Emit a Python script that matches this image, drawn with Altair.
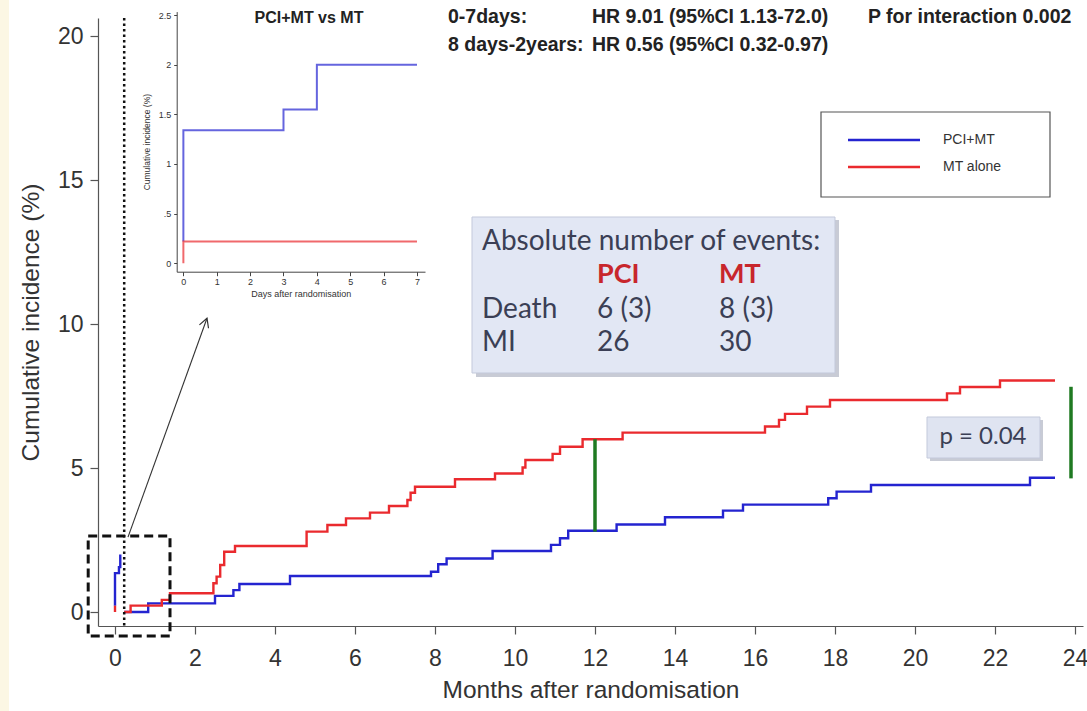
import altair as alt
import pandas as pd

# ---------------- data ----------------
SERIES = ["PCI+MT", "MT alone"]
COLORS = ["#2424d0", "#ea2a2e"]

MONTH_TICKS = list(range(0, 25, 2))
PCT_TICKS = [0, 5, 10, 15, 20]
DAY_TICKS = list(range(0, 8))
INSET_PCT_TICKS = [0, 0.5, 1, 1.5, 2, 2.5]

# landmark analysis 8 days - 2 years (months, cumulative %)
BLUE_T = [0.23, 0.83, 2.5, 2.96, 3.11, 4.375, 7.9, 8.08, 8.29, 9.44, 10.9, 11.125, 11.33,
          12.54, 13.75, 15.2, 15.7, 17.83, 18.04, 18.9, 22.875, 23.5]
BLUE_V = [0, 0.30, 0.56, 0.76, 0.97, 1.25, 1.40, 1.66, 1.86, 2.12, 2.33, 2.56, 2.82,
          3.04, 3.29, 3.52, 3.73, 3.95, 4.18, 4.41, 4.66, 4.66]
RED_T = [0.23, 0.39, 1.17, 1.375, 2.46, 2.54, 2.63, 2.73, 3.0, 4.79, 5.31, 5.775, 6.375,
         6.85, 7.31, 7.39, 7.5, 8.5, 9.5, 10.19, 10.26, 10.94, 11.125, 11.69, 12.69,
         16.25, 16.6, 16.75, 17.3, 17.875, 20.8, 21.125, 22.125, 23.5]
RED_V = [0, 0.22, 0.42, 0.65, 1.0, 1.23, 1.63, 2.09, 2.29, 2.79, 3.02, 3.25, 3.45,
         3.68, 3.89, 4.14, 4.35, 4.61, 4.81, 5.02, 5.28, 5.49, 5.74, 6.0, 6.23,
         6.44, 6.67, 6.88, 7.13, 7.36, 7.59, 7.81, 8.04, 8.04]

# first 7 days drawn on the month axis
EARLY_BLUE_T = [0, 0, 0.099, 0.132]
EARLY_BLUE_V = [0.22, 1.35, 1.56, 2.0]
EARLY_RED_T = [0, 0]
EARLY_RED_V = [0, 0.22]

# inset: days 0-7
INSET_BLUE_D = [0, 0, 3, 4, 7]
INSET_BLUE_V = [0.22, 1.34, 1.55, 2.0, 2.0]
INSET_RED_D = [0, 0, 7]
INSET_RED_V = [0, 0.22, 0.22]

# green difference bars
GREEN_T = [12, 23.9]
GREEN_LO = [2.79, 4.64]
GREEN_HI = [6.0, 7.82]

LANDMARK = [0.23]           # 7 days in months
ZOOM_BOX_X = [-0.67, 1.375]
ZOOM_BOX_Y = [-0.83, 2.64]
ARROW_FROM = [0.325, 2.6]
ARROW_TO = [2.3, 10.2]

HEAD_1 = ["0-7days:", "HR 9.01 (95%CI 1.13-72.0)", "P for interaction  0.002"]
HEAD_2 = ["8 days-2years:", "HR 0.56 (95%CI 0.32-0.97)"]
INSET_TITLE = "PCI+MT vs MT"
EVENTS_TITLE = "Absolute number of events:"
EVENT_COLS = ["PCI", "MT"]
EVENT_ROWS = ["Death", "MI"]
EVENT_PCI = ["6 (3)", "26"]
EVENT_MT = ["8 (3)", "30"]
P_TEXT = "p = 0.04"

# ---------------- tables ----------------
rows = []
def add(series, seg, ts, vs):
    for i, (t, v) in enumerate(zip(ts, vs)):
        rows.append(dict(series=series, seg=seg, t=t, v=v, i=i))

add(SERIES[0], "late_b", BLUE_T, BLUE_V)
add(SERIES[1], "late_r", RED_T, RED_V)
add(SERIES[0], "early_b", EARLY_BLUE_T, EARLY_BLUE_V)
add(SERIES[1], "early_r", EARLY_RED_T, EARLY_RED_V)
main_df = pd.DataFrame(rows)

irows = []
for i, (d, v) in enumerate(zip(INSET_BLUE_D, INSET_BLUE_V)):
    irows.append(dict(series=SERIES[0], d=d, v=v, i=i))
for i, (d, v) in enumerate(zip(INSET_RED_D, INSET_RED_V)):
    irows.append(dict(series=SERIES[1], d=d, v=v, i=i))
inset_df = pd.DataFrame(irows)

green_df = pd.DataFrame(dict(t=GREEN_T, lo=GREEN_LO, hi=GREEN_HI))
ONE = alt.Data(values=[{}])

FONT = "Liberation Sans"
CAL = "Lato"
W, H = 985, 608

XS = alt.Scale(domain=[-0.425, 24.2], nice=False, zero=False)
YS = alt.Scale(domain=[-0.486, 20.625], nice=False, zero=False)
CS = alt.Scale(domain=SERIES, range=COLORS)

x_axis = alt.Axis(values=MONTH_TICKS, title="Months after randomisation", grid=False,
                  labelFont=FONT, titleFont=FONT, labelFontSize=23, titleFontSize=24.5,
                  titleFontWeight="normal", labelColor="#333", titleColor="#333",
                  tickSize=8, tickColor="#555", domainColor="#555", tickWidth=1.2,
                  domainWidth=1.2, labelPadding=13, titlePadding=8, labelFlush=False)
y_axis = alt.Axis(values=PCT_TICKS, title="Cumulative incidence (%)", grid=False,
                  labelFont=FONT, titleFont=FONT, labelFontSize=23, titleFontSize=24.5,
                  titleFontWeight="normal", labelColor="#333", titleColor="#333",
                  tickSize=8, tickColor="#555", domainColor="#555", tickWidth=1.2,
                  domainWidth=1.2, labelPadding=7, titlePadding=14, labelFlush=False)

# plot-area origin is (98, 18) in page pixels
OX, OY = 98, 18
def px(x): return x - OX
def py(y): return y - OY

def txt(s, x, y, size, font=FONT, weight="normal", color="#222", align="left"):
    return alt.Chart(ONE).mark_text(font=font, fontSize=size, fontWeight=weight, color=color,
                                    align=align, baseline="middle").encode(
        x=alt.value(x), y=alt.value(y), text=alt.value(s))

def box(x0, x1, y0, y1, fill, stroke, sw=1.0, opacity=1.0):
    return alt.Chart(ONE).mark_rect(fill=fill, stroke=stroke, strokeWidth=sw,
                                    opacity=opacity).encode(
        x=alt.value(x0), x2=alt.value(x1), y=alt.value(y0), y2=alt.value(y1))

# cream page edge on the left
edge = box(px(0), px(9), py(0), py(711), "#fcf7e4", "#fcf7e4", 0)

lines = alt.Chart(main_df).mark_line(interpolate="step-after", strokeWidth=2.4).encode(
    x=alt.X("t:Q", scale=XS, axis=x_axis),
    y=alt.Y("v:Q", scale=YS, axis=y_axis),
    color=alt.Color("series:N", scale=CS, legend=None),
    detail="seg:N",
    order="i:Q",
)

green = alt.Chart(green_df).mark_rule(strokeWidth=3.5, color="#1f7a22").encode(
    x="t:Q", y="lo:Q", y2="hi:Q")

dotted = alt.Chart(ONE).mark_rule(strokeWidth=2.5, color="#111", strokeDash=[2.5, 3]).encode(
    x=alt.datum(LANDMARK[0]), y=alt.value(0), y2=alt.value(H))

zoom_box = alt.Chart(ONE).mark_rect(fillOpacity=0, stroke="#111", strokeWidth=3,
                                    strokeDash=[9, 5]).encode(
    x=alt.datum(ZOOM_BOX_X[0]), x2=alt.datum(ZOOM_BOX_X[1]),
    y=alt.datum(ZOOM_BOX_Y[1]), y2=alt.datum(ZOOM_BOX_Y[0]))

arrow = alt.Chart(ONE).mark_rule(strokeWidth=1.1, color="#333").encode(
    x=alt.datum(ARROW_FROM[0]), y=alt.datum(ARROW_FROM[1]),
    x2=alt.datum(ARROW_TO[0]), y2=alt.datum(ARROW_TO[1]))
arrow_head = alt.Chart(ONE).mark_point(shape="M -0.6 1.1 L 0 0 L 0.6 1.1", filled=False,
                                       size=260, angle=20, strokeWidth=1.2, color="#333",
                                       opacity=1).encode(
    x=alt.datum(ARROW_TO[0]), y=alt.datum(ARROW_TO[1]))

legend_layers = [
    box(px(821), px(1050), py(112), py(197), "white", "#555", 1.2),
]
for k, ly in enumerate([140, 167]):
    legend_layers.append(
        alt.Chart(pd.DataFrame(dict(series=[SERIES[k]]))).mark_rule(strokeWidth=2.6).encode(
            x=alt.value(px(848)), x2=alt.value(px(920)), y=alt.value(py(ly)),
            color=alt.Color("series:N", scale=CS, legend=None)))
    legend_layers.append(txt(SERIES[k], px(943), py(ly), 14, color="#333"))

EV = 28
events_layers = [
    box(px(476), px(839), py(220), py(377), "#9aa0b2", "#9aa0b2", 0, 0.55),
    box(px(472), px(835), py(217), py(373), "#e2e7f4", "#c3c9db", 1),
    txt(EVENTS_TITLE, px(482), py(242), EV, CAL, color="#3b3f55"),
    txt(EVENT_COLS[0], px(597), py(275), EV - 1, CAL, "bold", "#c8262c"),
    txt(EVENT_COLS[1], px(719), py(275), EV - 1, CAL, "bold", "#c8262c"),
]
for k, ry in enumerate([310, 343]):
    events_layers += [
        txt(EVENT_ROWS[k], px(482), py(ry), EV, CAL, color="#3b3f55"),
        txt(EVENT_PCI[k], px(597), py(ry), EV, CAL, color="#3b3f55"),
        txt(EVENT_MT[k], px(719), py(ry), EV, CAL, color="#3b3f55"),
    ]

p_layers = [
    box(px(930), px(1043), py(420), py(461), "#9aa0b2", "#9aa0b2", 0, 0.55),
    box(px(927), px(1040), py(417), py(458), "#dfe4f1", "#c3c9db", 1),
    txt(P_TEXT, px(983), py(437), 24, CAL, color="#3b3f55", align="center"),
]

HF = 19.5
head_layers = [
    txt(INSET_TITLE, px(309), py(18), 16, weight="bold", align="center"),
    txt(HEAD_1[0], px(448), py(17), HF, weight="bold"),
    txt(HEAD_1[1], px(592), py(17), HF, weight="bold"),
    txt(HEAD_1[2], px(868), py(17), HF, weight="bold"),
    txt(HEAD_2[0], px(448), py(45), HF, weight="bold"),
    txt(HEAD_2[1], px(592), py(45), HF, weight="bold"),
]

main = alt.layer(edge, lines, green, dotted, zoom_box, arrow, arrow_head,
                 *legend_layers, *events_layers, *p_layers, *head_layers)

# ---------------- inset ----------------
IXS = alt.Scale(domain=[-0.2, 7.24], range=[px(176.7), px(425)], nice=False, zero=False)
IYS = alt.Scale(domain=[-0.085, 2.535], range=[py(271.7), py(11.6)], nice=False, zero=False)
ix_axis = alt.Axis(orient="bottom", offset=py(271.7) - H, values=DAY_TICKS,
                   title="Days after randomisation", grid=False, labelFont=FONT, titleFont=FONT,
                   labelFontSize=9, titleFontSize=9, titleFontWeight="normal",
                   labelColor="#333", titleColor="#333", tickSize=4, tickColor="#444",
                   domainColor="#444", labelPadding=2, titlePadding=3, labelFlush=False)
iy_axis = alt.Axis(orient="left", offset=-px(176.7), values=INSET_PCT_TICKS,
                   title="Cumulative incidence (%)", grid=False, labelFont=FONT, titleFont=FONT,
                   labelFontSize=9, titleFontSize=8.5, titleFontWeight="normal",
                   labelColor="#333", titleColor="#333", tickSize=3, tickColor="#444",
                   domainColor="#444", labelPadding=3, titlePadding=7, labelFlush=False,
                   format="~g", labelExpr="datum.value == 0.5 ? '.5' : datum.label")
inset = alt.Chart(inset_df).mark_line(interpolate="step-after", strokeWidth=2, opacity=0.7).encode(
    x=alt.X("d:Q", scale=IXS, axis=ix_axis),
    y=alt.Y("v:Q", scale=IYS, axis=iy_axis),
    color=alt.Color("series:N", scale=CS, legend=None),
    detail="series:N",
    order="i:Q",
)

chart = alt.layer(main, inset).resolve_scale(x="independent", y="independent").properties(
    width=W, height=H,
    padding={"left": OX, "top": OY, "right": 1087 - OX - W, "bottom": 711 - OY - H},
    autosize=alt.AutoSizeParams(type="none"),
    background="white",
).configure_view(stroke=None)

chart.save("out.html", embed_options={"renderer": "svg", "actions": False})
